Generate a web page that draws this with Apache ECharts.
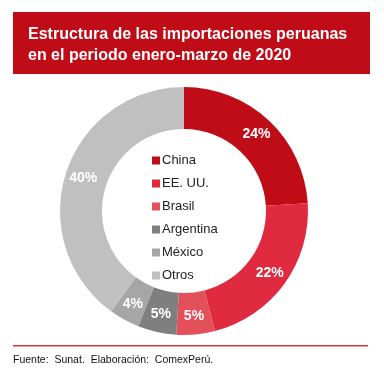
<!DOCTYPE html>
<html><head><meta charset="utf-8">
<script src="https://cdn.jsdelivr.net/npm/echarts@6/dist/echarts.min.js"></script>
<style>html,body{margin:0;padding:0;background:#fff}#c{width:384px;height:376px}</style>
</head><body><div id="c"></div>
<script>
const categories = ['China', 'EE. UU.', 'Brasil', 'Argentina', 'México', 'Otros'];
const values = [24, 22, 5, 5, 4, 40];
const colors = ['#c00c17', '#e02a3f', '#e4505a', '#7f7f7f', '#a6a6a6', '#c0c0c0'];
const titleLines = ['Estructura de las importaciones peruanas', 'en el periodo enero-marzo de 2020'];
const footer = 'Fuente:  Sunat.  Elaboración:  ComexPerú.';

const chart = echarts.init(document.getElementById('c'), null, {renderer: 'canvas'});
chart.setOption({
  animation: false,
  color: colors,
  legend: {
    orient: 'vertical',
    left: 147, top: 148,
    itemWidth: 8, itemHeight: 8, itemGap: 8,
    icon: 'rect',
    selectedMode: false,
    textStyle: {fontFamily: 'Liberation Sans, Arial, sans-serif', fontSize: 13, color: '#222', padding: [0, 0, 0, -3], lineHeight: 15},
    data: categories
  },
  graphic: [
    {type: 'rect', shape: {x: 13, y: 12, width: 357, height: 62}, style: {fill: '#c00c17'}},
    {type: 'text', left: 28, top: 24, style: {text: titleLines.join('\n'), fill: '#fff', font: 'bold 16px Liberation Sans, Arial, sans-serif', lineHeight: 21}},
    {type: 'rect', shape: {x: 13, y: 345, width: 355, height: 1.5}, style: {fill: '#d9303a'}},
    {type: 'text', left: 13, top: 355, style: {text: footer, fill: '#111', font: '10.5px Liberation Sans, Arial, sans-serif'}}
  ],
  series: [{
    type: 'pie',
    center: [184, 211],
    radius: [82, 124],
    startAngle: 90,
    clockwise: true,
    avoidLabelOverlap: false,
    silent: true,
    label: {
      show: true, position: 'inside',
      formatter: '{c}%',
      color: '#fff', fontWeight: 'bold', fontSize: 14,
      fontFamily: 'Liberation Sans, Arial, sans-serif'
    },
    labelLine: {show: false},
    itemStyle: {borderWidth: 0},
    data: categories.map((n, i) => ({name: n, value: values[i]}))
  }]
});
</script></body></html>
